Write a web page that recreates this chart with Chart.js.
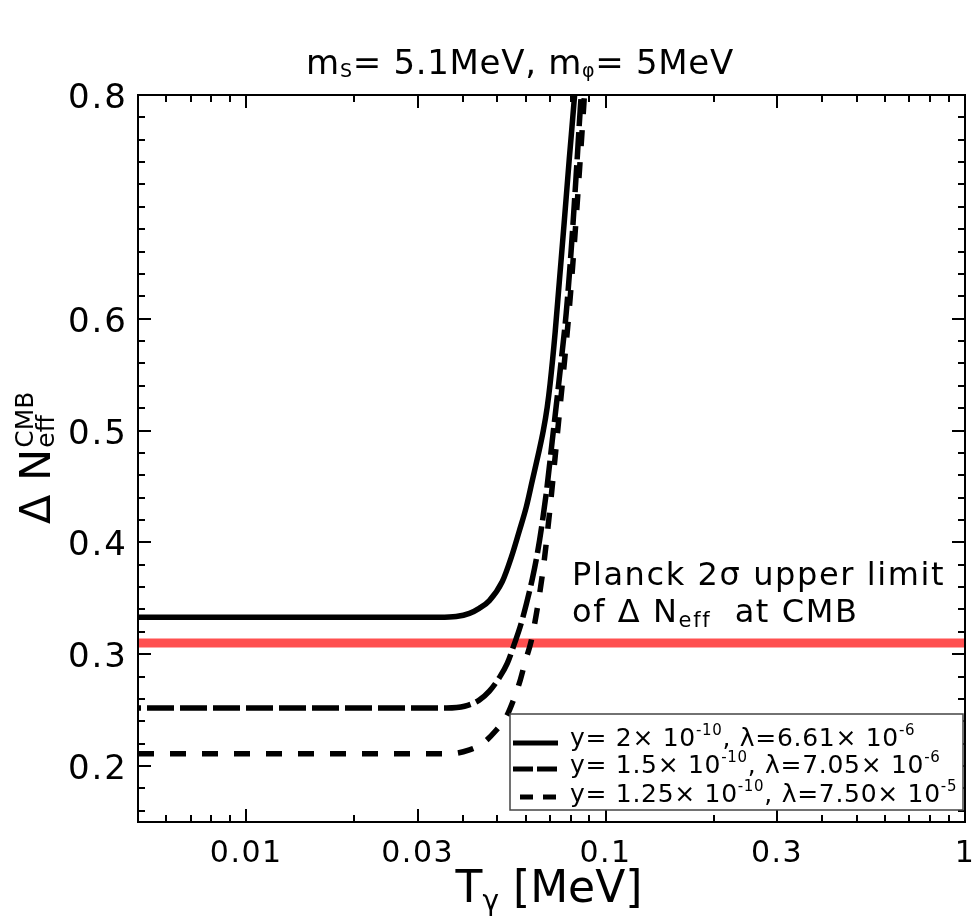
<!DOCTYPE html>
<html>
<head>
<meta charset="utf-8">
<script src="https://cdn.jsdelivr.net/npm/chart.js@4.4.1/dist/chart.umd.min.js"></script>
<style>
html, body { margin: 0; padding: 0; background: #fff; }
#wrap { width: 980px; height: 916px; }
</style>
</head>
<body>
<div id="wrap"><canvas id="chart" width="980" height="916"></canvas></div>
<script>
// T_gamma [MeV] vs Delta N_eff at CMB
const solidT = [0.005, 0.015, 0.025, 0.0345, 0.0384, 0.0418, 0.0445, 0.0475, 0.0516, 0.0547, 0.0575, 0.0602, 0.0625,
  0.0649, 0.0671, 0.0688, 0.0701, 0.0724, 0.0743, 0.0767, 0.0792, 0.0820, 0.0833];
const solidN = [0.333, 0.333, 0.333, 0.333, 0.3337, 0.3365, 0.341, 0.348, 0.365, 0.387, 0.410, 0.432, 0.455,
  0.478, 0.500, 0.521, 0.542, 0.588, 0.632, 0.686, 0.742, 0.800, 0.831];

const dashT = [0.005, 0.015, 0.025, 0.0361, 0.0405, 0.0445, 0.0475, 0.0506, 0.0533, 0.0557, 0.0579, 0.0602, 0.0625,
  0.0645, 0.0666, 0.0688, 0.0710, 0.0733, 0.0757, 0.0777, 0.0802, 0.0828, 0.0850, 0.0861];
const dashN = [0.252, 0.252, 0.252, 0.252, 0.2535, 0.259, 0.267, 0.279, 0.292, 0.309, 0.325, 0.345, 0.367,
  0.389, 0.417, 0.451, 0.490, 0.529, 0.570, 0.605, 0.661, 0.728, 0.787, 0.813];

const dotT = [0.005, 0.015, 0.025, 0.0368, 0.0418, 0.0454, 0.0496, 0.0529, 0.0554, 0.0579, 0.0597, 0.0621, 0.0641,
  0.0658, 0.0675, 0.0697, 0.0720, 0.0743, 0.0767, 0.0792, 0.0818, 0.0844, 0.0866, 0.0877];
const dotN = [0.211, 0.211, 0.211, 0.211, 0.2145, 0.220, 0.232, 0.244, 0.259, 0.277, 0.293, 0.312, 0.335,
  0.358, 0.384, 0.424, 0.469, 0.514, 0.559, 0.608, 0.666, 0.728, 0.782, 0.809];

const planckLimit = 0.31;
const xRange = [0.005, 1];
const yRange = [0.15, 0.8];

const xMajor = [0.01, 0.03, 0.1, 0.3, 1];
const xMajorLabels = ["0.01", "0.03", "0.1", "0.3", "1"];
const xMinor = [0.006, 0.007, 0.008, 0.009, 0.02, 0.04, 0.05, 0.06, 0.07, 0.08, 0.09, 0.2, 0.4, 0.5, 0.6, 0.7, 0.8, 0.9];
const yMajor = [0.2, 0.3, 0.4, 0.5, 0.6, 0.8];
const yMajorLabels = ["0.2", "0.3", "0.4", "0.5", "0.6", "0.8"];
const yMinor = [0.16, 0.18, 0.22, 0.24, 0.26, 0.28, 0.32, 0.34, 0.36, 0.38, 0.42, 0.44, 0.46, 0.48,
  0.52, 0.54, 0.56, 0.58, 0.62, 0.64, 0.66, 0.68, 0.7, 0.72, 0.74, 0.76, 0.78];

// legend entries
const legendY = ["2", "1.5", "1.25"];
const legendLambda = ["6.61", "7.05", "7.50"];
const legendLambdaExp = ["-6", "-6", "-5"];

const FONT = '"DejaVu Sans", sans-serif';

function pts(xs, ys) {
  return xs.map((x, i) => ({ x: x, y: ys[i] }));
}

// draws text made of pieces [text, size, dy]
function rich(ctx, parts, x, y, align, spacing) {
  ctx.letterSpacing = (spacing || 0) + 'px';
  let w = 0;
  parts.forEach(p => {
    ctx.font = p[1] + 'px ' + FONT;
    w += ctx.measureText(p[0]).width;
  });
  let cx = x;
  if (align === 'center') cx = x - w / 2;
  if (align === 'right') cx = x - w;
  ctx.textAlign = 'left';
  ctx.textBaseline = 'alphabetic';
  parts.forEach(p => {
    ctx.font = p[1] + 'px ' + FONT;
    ctx.fillText(p[0], cx, y + (p[2] || 0));
    cx += ctx.measureText(p[0]).width;
  });
  ctx.letterSpacing = '0px';
  return cx;
}

const framePlugin = {
  id: 'frame',
  afterDatasetsDraw(chart) {
    const ctx = chart.ctx;
    const a = chart.chartArea;
    const xs = chart.scales.x, ys = chart.scales.y;
    ctx.save();
    ctx.strokeStyle = '#000';
    ctx.lineWidth = 2;
    ctx.beginPath();
    const tickX = (v, len) => {
      const px = Math.round(xs.getPixelForValue(v));
      ctx.moveTo(px, a.bottom); ctx.lineTo(px, a.bottom - len);
      ctx.moveTo(px, a.top); ctx.lineTo(px, a.top + len);
    };
    const tickY = (v, len) => {
      const py = Math.round(ys.getPixelForValue(v));
      ctx.moveTo(a.left, py); ctx.lineTo(a.left + len, py);
      ctx.moveTo(a.right, py); ctx.lineTo(a.right - len, py);
    };
    xMajor.forEach(v => tickX(v, 13));
    xMinor.forEach(v => tickX(v, 7));
    yMajor.forEach(v => tickY(v, 13));
    yMinor.forEach(v => tickY(v, 7));
    ctx.stroke();
    ctx.strokeRect(a.left, a.top, a.right - a.left, a.bottom - a.top);

    // legend box
    ctx.fillStyle = '#fff';
    ctx.fillRect(510, 714, 453, 96);
    ctx.strokeStyle = '#444';
    ctx.lineWidth = 1.5;
    ctx.strokeRect(510, 714, 453, 96);
    const dashes = [[], [20, 4], [13, 10]];
    const rowY = [743, 769, 797];
    ctx.strokeStyle = '#000';
    ctx.lineWidth = 5;
    ctx.lineCap = 'butt';
    rowY.forEach((yy, i) => {
      ctx.setLineDash(dashes[i]);
      ctx.lineDashOffset = i === 2 ? -7 : 0;
      ctx.beginPath();
      ctx.moveTo(513, yy); ctx.lineTo(558, yy);
      ctx.stroke();
    });
    ctx.setLineDash([]);
    ctx.fillStyle = '#000';
    const textY = [746, 773, 802];
    textY.forEach((yy, i) => {
      rich(ctx, [
        ['y= ' + legendY[i] + '\u00d7 10', 25, 0], ['-10', 15, -11],
        [', \u03bb=' + legendLambda[i] + '\u00d7 10', 25, 0], [legendLambdaExp[i], 15, -11]
      ], 570, yy, 'left', 0.7);
    });
    ctx.restore();
  },
  afterDraw(chart) {
    const ctx = chart.ctx;
    const xs = chart.scales.x, ys = chart.scales.y;
    ctx.save();
    ctx.fillStyle = '#000';
    xMajor.forEach((v, i) => {
      rich(ctx, [[xMajorLabels[i], 30, 0]], xs.getPixelForValue(v), 862, 'center', 1.5);
    });
    yMajor.forEach((v, i) => {
      rich(ctx, [[yMajorLabels[i], 34, 0]], 128, ys.getPixelForValue(v) + 13, 'right', 2);
    });
    // title
    rich(ctx, [['m', 34, 0], ['S', 19, 3], ['= 5.1MeV, m', 34, 0], ['\u03c6', 19, 3], ['= 5MeV', 34, 0]], 520, 74, 'center', 0.7);
    // x axis title
    rich(ctx, [['T', 44, 0], ['\u03b3', 28, 8], [' [MeV]', 44, 0]], 549, 902, 'center', 0);
    // y axis title
    ctx.save();
    ctx.translate(50, 524);
    ctx.rotate(-Math.PI / 2);
    const nx = rich(ctx, [['\u0394 N', 43, 0]], 0, 0, 'left', 0);
    rich(ctx, [['eff', 25, 4]], nx + 1, 0, 'left', 0);
    rich(ctx, [['CMB', 25, -17]], nx + 1, 0, 'left', 0);
    ctx.restore();
    // Planck annotation
    rich(ctx, [['Planck 2\u03c3 upper limit', 32, 0]], 572, 585, 'left', 1.6);
    rich(ctx, [['of \u0394 N', 32, 0], ['eff', 21, 5], ['  at CMB', 32, 0]], 572, 622, 'left', 1.6);
    ctx.restore();
  }
};

const lineBase = {
  borderColor: '#000',
  borderWidth: 5.5,
  pointRadius: 0,
  fill: false,
  cubicInterpolationMode: 'monotone',
  borderCapStyle: 'butt',
  clip: 0
};

new Chart(document.getElementById('chart'), {
  type: 'line',
  data: {
    datasets: [
      Object.assign({}, lineBase, { data: pts(solidT, solidN) }),
      Object.assign({}, lineBase, { data: pts(dashT, dashN), borderDash: [27, 6], borderDashOffset: 24 }),
      Object.assign({}, lineBase, { data: pts(dotT, dotN), borderDash: [16, 16] }),
      Object.assign({}, lineBase, { data: pts(xRange, [planckLimit, planckLimit]), borderColor: '#ff5050', borderWidth: 9 })
    ]
  },
  options: {
    responsive: false,
    animation: false,
    layout: { padding: { left: 138, right: 15, top: 95, bottom: 94 } },
    plugins: { legend: { display: false }, tooltip: { enabled: false }, title: { display: false } },
    scales: {
      x: { type: 'logarithmic', min: xRange[0], max: xRange[1], display: false },
      y: { type: 'linear', min: yRange[0], max: yRange[1], display: false }
    }
  },
  plugins: [framePlugin]
});
</script>
</body>
</html>
